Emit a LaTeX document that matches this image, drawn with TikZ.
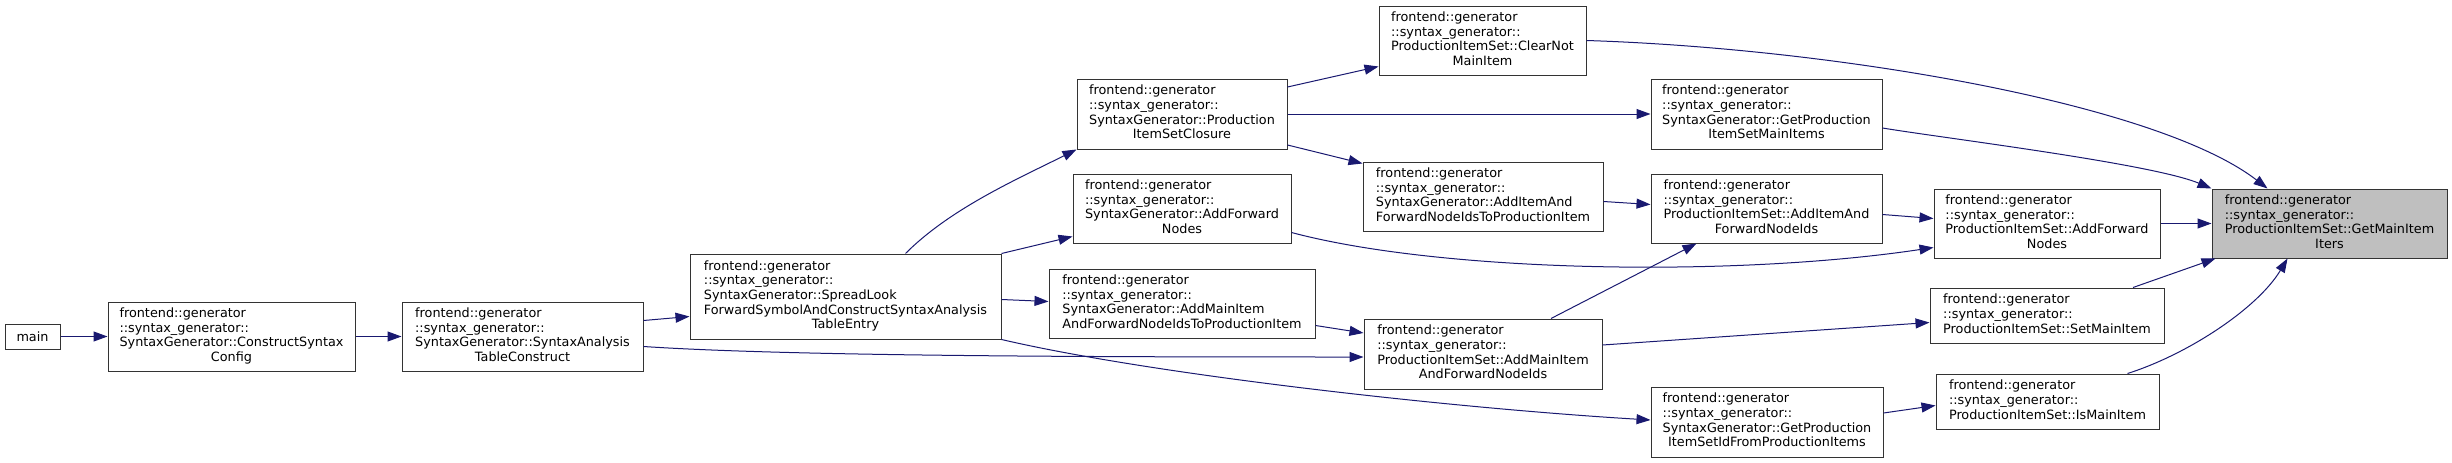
\documentclass[tikz,border=0pt]{standalone}
\usepackage{fontspec}
\setmainfont{DejaVu Sans}
\usetikzlibrary{arrows.meta}
\definecolor{edgeblue}{HTML}{191970}
\newcommand{\fnlines}[1]{\begin{tabular}{@{}l@{}}#1\end{tabular}}
\newcommand{\lastln}[1]{\multicolumn{1}{@{}c@{}}{#1}}
\tikzset{
  fnbox/.style={draw=black!80, line width=1pt, inner sep=0pt, fill=white,
    font=\fontsize{12.8}{14.7}\selectfont},
  call/.style={draw=edgeblue, line width=1pt, -{Triangle[length=14pt,width=10pt]}},
}
\begin{document}
\begin{tikzpicture}[x=1pt,y=-1pt]
    \useasboundingbox (0,0) rectangle (2452,463);
    % ---- left part ----
    \node[fnbox, minimum width=55pt, minimum height=25pt] (main) at (32.5,336.5) {main};
    \node[fnbox, minimum width=247pt, minimum height=69pt] (construct) at (231.5,336.5)
        {\fnlines{frontend::generator\\::syntax\_generator::\\SyntaxGenerator::ConstructSyntax\\\lastln{Config}}};
    \node[fnbox, minimum width=241pt, minimum height=69pt] (satc) at (522.5,336.5)
        {\fnlines{frontend::generator\\::syntax\_generator::\\SyntaxGenerator::SyntaxAnalysis\\\lastln{TableConstruct}}};
    \node[fnbox, minimum width=311pt, minimum height=85pt] (spread) at (845.5,296.5)
        {\fnlines{frontend::generator\\::syntax\_generator::\\SyntaxGenerator::SpreadLook\\ForwardSymbolAndConstructSyntaxAnalysis\\\lastln{TableEntry}}};
    % ---- middle part ----
    \node[fnbox, minimum width=210pt, minimum height=70pt] (closure) at (1182,114)
        {\fnlines{frontend::generator\\::syntax\_generator::\\SyntaxGenerator::Production\\\lastln{ItemSetClosure}}};
    \node[fnbox, minimum width=218pt, minimum height=69pt] (sgfwd) at (1182,208.5)
        {\fnlines{frontend::generator\\::syntax\_generator::\\SyntaxGenerator::AddForward\\\lastln{Nodes}}};
    \node[fnbox, minimum width=266pt, minimum height=69pt] (addmainpi) at (1182,303.5)
        {\fnlines{frontend::generator\\::syntax\_generator::\\SyntaxGenerator::AddMainItem\\AndForwardNodeIdsToProductionItem}};
    \node[fnbox, minimum width=207pt, minimum height=69pt] (clearnot) at (1482.5,40.5)
        {\fnlines{frontend::generator\\::syntax\_generator::\\ProductionItemSet::ClearNot\\\lastln{MainItem}}};
    \node[fnbox, minimum width=240pt, minimum height=69pt] (additempi) at (1483,196.5)
        {\fnlines{frontend::generator\\::syntax\_generator::\\SyntaxGenerator::AddItemAnd\\ForwardNodeIdsToProductionItem}};
    \node[fnbox, minimum width=238pt, minimum height=70pt] (pisaddmain) at (1483,354)
        {\fnlines{frontend::generator\\::syntax\_generator::\\ProductionItemSet::AddMainItem\\\lastln{AndForwardNodeIds}}};
    % ---- right part ----
    \node[fnbox, minimum width=231pt, minimum height=70pt] (getmainitems) at (1766.5,114)
        {\fnlines{frontend::generator\\::syntax\_generator::\\SyntaxGenerator::GetProduction\\\lastln{ItemSetMainItems}}};
    \node[fnbox, minimum width=231pt, minimum height=69pt] (additemfwd) at (1766.5,208.5)
        {\fnlines{frontend::generator\\::syntax\_generator::\\ProductionItemSet::AddItemAnd\\\lastln{ForwardNodeIds}}};
    \node[fnbox, minimum width=232pt, minimum height=70pt] (getpisid) at (1767,422)
        {\fnlines{frontend::generator\\::syntax\_generator::\\SyntaxGenerator::GetProduction\\\lastln{ItemSetIdFromProductionItems}}};
    \node[fnbox, minimum width=226pt, minimum height=69pt] (pisfwd) at (2047,223.5)
        {\fnlines{frontend::generator\\::syntax\_generator::\\ProductionItemSet::AddForward\\\lastln{Nodes}}};
    \node[fnbox, minimum width=234pt, minimum height=55pt] (setmain) at (2047,315.5)
        {\fnlines{frontend::generator\\::syntax\_generator::\\ProductionItemSet::SetMainItem}};
    \node[fnbox, minimum width=223pt, minimum height=55pt] (ismain) at (2047.5,401.5)
        {\fnlines{frontend::generator\\::syntax\_generator::\\ProductionItemSet::IsMainItem}};
    \node[fnbox, fill=black!25, minimum width=235pt, minimum height=69pt] (iters) at (2329.5,223.5)
        {\fnlines{frontend::generator\\::syntax\_generator::\\ProductionItemSet::GetMainItem\\\lastln{Iters}}};
    % ---- calls ----
    \draw[call] (main) -- (construct);
    \draw[call] (construct) -- (satc);
    \draw[call] ([yshift=16pt]satc.east) -- ([yshift=-20pt]spread.west);
    \draw[call] ([yshift=-10pt]satc.east) .. controls +(150,10) and +(-250,0) .. ([yshift=-3pt]pisaddmain.west);
    \draw[call] ([xshift=60pt]spread.north) .. controls +(45,-45) and +(-60,30) .. (closure.south west);
    \draw[call] (spread.north east) -- ([yshift=-28pt]sgfwd.west);
    \draw[call] ([yshift=-3pt]spread.east) -- ([yshift=2pt]addmainpi.west);
    \draw[call] (spread.south east) .. controls +(150,35) and +(-200,-12) .. ([yshift=2pt]getpisid.west);
    \draw[call] ([yshift=27pt]closure.east) -- ([yshift=-26pt]clearnot.west);
    \draw[call] (closure) -- (getmainitems);
    \draw[call] ([yshift=-31pt]closure.east) -- ([yshift=33pt]additempi.west);
    \draw[call] ([yshift=-5pt]additempi.east) -- ([yshift=4pt]additemfwd.west);
    \draw[call] ([yshift=-22pt]addmainpi.east) -- ([yshift=21pt]pisaddmain.west);
    \draw[call] ([xshift=68pt]pisaddmain.north) -- ([xshift=-70pt]additemfwd.south);
    \draw[call] ([yshift=9pt]pisaddmain.east) -- ([yshift=-7pt]setmain.west);
    \draw[call] ([yshift=-24pt]sgfwd.east) .. controls +(150,40) and +(-200,30) .. ([yshift=-24pt]pisfwd.west);
    \draw[call] ([yshift=-6pt]additemfwd.east) -- ([yshift=5pt]pisfwd.west);
    \draw[call] ([yshift=9pt]getpisid.east) -- ([yshift=-4pt]ismain.west);
    \draw[call] (clearnot.east) .. controls +(250,8) and +(-110,-85) .. ([xshift=-62pt]iters.north);
    \draw[call] ([yshift=-14pt]getmainitems.east) .. controls +(60,10) and +(-60,-25) .. (iters.north west);
    \draw[call] (pisfwd) -- (iters);
    \draw[call] ([xshift=86pt]setmain.north) -- ([xshift=-114pt]iters.south);
    \draw[call] ([xshift=80pt]ismain.north) .. controls +(60,-19) and +(-30,50) .. ([xshift=-42pt]iters.south);
\end{tikzpicture}
\end{document}
